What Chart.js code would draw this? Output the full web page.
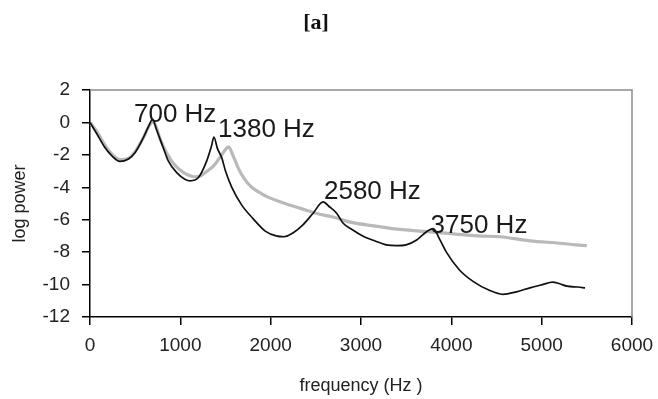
<!DOCTYPE html>
<html>
<head>
<meta charset="utf-8">
<title>[a] log power vs frequency</title>
<script src="https://cdn.jsdelivr.net/npm/chart.js@4/dist/chart.umd.min.js"></script>
<style>
  html, body { margin: 0; padding: 0; background: #fff; }
  #wrap { width: 658px; height: 399px; }
</style>
</head>
<body>
<div id="wrap"><canvas id="chart" width="658" height="399"></canvas></div>
<script>
// black curve (sharp formant peaks)
const freqA = [0, 75, 165, 240, 330, 425, 500, 590, 660, 690, 740, 810, 865, 960, 1050, 1110, 1200, 1290, 1345, 1372, 1410, 1460, 1500, 1570, 1680, 1800, 1940, 2060, 2150, 2250, 2360, 2470, 2580, 2650, 2730, 2800, 2900, 3020, 3150, 3280, 3400, 3500, 3616, 3680, 3750, 3800, 3870, 3945, 4090, 4240, 4420, 4570, 4720, 4870, 5010, 5120, 5200, 5280, 5400, 5480];
const powerA = [0, -0.7, -1.55, -2.05, -2.4, -2.25, -1.85, -0.95, -0.1, 0.2, -0.5, -1.55, -2.35, -3.1, -3.5, -3.6, -3.4, -2.4, -1.45, -0.9, -1.6, -2.2, -3.0, -4.0, -5.1, -5.9, -6.7, -7.0, -7.05, -6.8, -6.3, -5.6, -4.9, -5.2, -5.6, -6.2, -6.6, -7.0, -7.3, -7.55, -7.6, -7.55, -7.25, -6.95, -6.65, -6.55, -7.2, -8.0, -9.1, -9.8, -10.35, -10.6, -10.45, -10.2, -10.0, -9.85, -9.95, -10.1, -10.15, -10.2];

// grey curve (smoothed)
const freqB = [0, 80, 170, 250, 340, 430, 500, 590, 660, 700, 740, 775, 850, 920, 1000, 1070, 1150, 1220, 1300, 1365, 1420, 1470, 1510, 1535, 1580, 1640, 1700, 1790, 1900, 2010, 2160, 2330, 2500, 2700, 2880, 3100, 3430, 3650, 3870, 4300, 4540, 4870, 5200, 5380, 5500];
const powerB = [0, -0.6, -1.45, -2.0, -2.3, -2.2, -1.8, -0.95, -0.15, 0.05, -0.4, -1.0, -1.9, -2.5, -2.95, -3.2, -3.35, -3.3, -3.0, -2.7, -2.3, -1.9, -1.6, -1.5, -2.0, -2.8, -3.4, -4.0, -4.4, -4.7, -5.0, -5.3, -5.6, -5.85, -6.15, -6.35, -6.6, -6.7, -6.8, -7.0, -7.05, -7.3, -7.45, -7.55, -7.6];

// peak labels, anchored (left, baseline) at these data coordinates
const peakLabels = ['700 Hz', '1380 Hz', '2580 Hz', '3750 Hz'];
const peakFreq = [487, 1417, 2590, 3770];
const peakPower = [0.05, -0.92, -4.7, -6.8];

const xTicks = [0, 1000, 2000, 3000, 4000, 5000, 6000];
const yTicks = [2, 0, -2, -4, -6, -8, -10, -12];

function toPoints(xs, ys){ return xs.map((x, i) => ({ x: x, y: ys[i] })); }

// top + right frame in grey, like the spreadsheet plot area
const frameBox = {
  id: 'frameBox',
  beforeDatasetsDraw(chart){
    const { ctx, chartArea: a } = chart;
    ctx.save();
    ctx.strokeStyle = '#8c8c8c'; ctx.lineWidth = 1.5;
    ctx.beginPath();
    ctx.moveTo(a.left, a.top); ctx.lineTo(a.right, a.top); ctx.lineTo(a.right, a.bottom);
    ctx.stroke();
    ctx.restore();
  }
};

const peakText = {
  id: 'peakText',
  afterDatasetsDraw(chart){
    const { ctx, scales } = chart;
    ctx.save();
    ctx.fillStyle = '#1a1a1a';
    ctx.font = '26px "Liberation Sans", Arial, sans-serif';
    ctx.textAlign = 'left'; ctx.textBaseline = 'alphabetic';
    peakLabels.forEach((t, i) => {
      ctx.fillText(t, scales.x.getPixelForValue(peakFreq[i]), scales.y.getPixelForValue(peakPower[i]));
    });
    ctx.restore();
  }
};

const tickFont = { family: '"Liberation Sans", Arial, sans-serif', size: 19 };

new Chart(document.getElementById('chart'), {
  type: 'line',
  data: {
    datasets: [
      { label: 'spectrum', data: toPoints(freqA, powerA), borderColor: '#111', borderWidth: 1.7,
        pointRadius: 0, cubicInterpolationMode: 'monotone' },
      { label: 'smoothed', data: toPoints(freqB, powerB), borderColor: '#b9b9b9', borderWidth: 3.2,
        pointRadius: 0, cubicInterpolationMode: 'monotone' }
    ]
  },
  options: {
    responsive: false,
    animation: false,
    layout: { padding: { left: 0, right: 26, top: 0, bottom: 0 } },
    plugins: {
      legend: { display: false },
      tooltip: { enabled: false },
      title: { display: true, text: '[a]', color: '#111',
        font: { family: '"Liberation Serif", "Times New Roman", serif', size: 22, weight: 'bold' },
        padding: { top: 10, bottom: 53.6 } }
    },
    scales: {
      x: {
        type: 'linear', min: 0, max: 6000,
        afterBuildTicks: s => { s.ticks = xTicks.map(v => ({ value: v })); },
        afterFit: s => { s.height = 82; s.paddingLeft = 0; s.paddingRight = 0; },
        ticks: { color: '#222', font: tickFont, padding: 9, maxRotation: 0, callback: v => String(v) },
        grid: { drawOnChartArea: false, drawTicks: true, tickLength: 8, color: '#000', lineWidth: 1.5 },
        border: { display: true, color: '#000', width: 1.5 },
        title: { display: true, text: 'frequency (Hz )', color: '#222',
          font: { family: '"Liberation Sans", Arial, sans-serif', size: 18 }, padding: { top: 0, bottom: 2 } }
      },
      y: {
        min: -12, max: 2,
        afterBuildTicks: s => { s.ticks = yTicks.map(v => ({ value: v })); },
        afterFit: s => { s.width = 90; s.paddingTop = 0; s.paddingBottom = 0; },
        ticks: { color: '#222', font: tickFont, padding: 12, callback: v => String(v) },
        grid: { drawOnChartArea: false, drawTicks: true, tickLength: 8, color: '#000', lineWidth: 1.5 },
        border: { display: true, color: '#000', width: 1.5 },
        title: { display: true, text: 'log power', color: '#222',
          font: { family: '"Liberation Sans", Arial, sans-serif', size: 18 }, padding: { top: 9, bottom: 0 } }
      }
    }
  },
  plugins: [frameBox, peakText]
});
</script>
</body>
</html>
